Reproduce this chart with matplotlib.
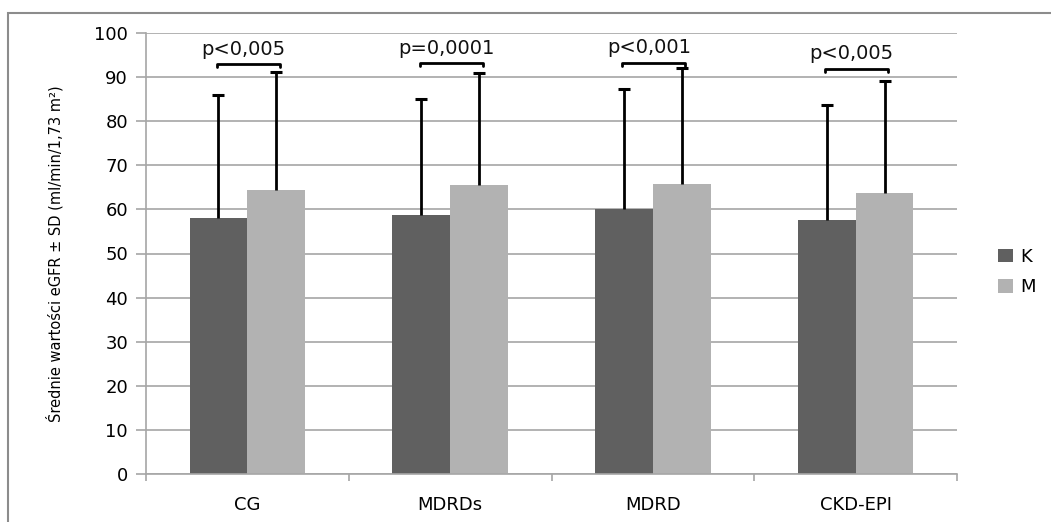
import numpy as np
import matplotlib.pyplot as plt
from matplotlib.patches import Rectangle

# data
categories = ["CG", "MDRDs", "MDRD", "CKD-EPI"]
k_mean = [58.1, 58.7, 60.0, 57.6]
k_sd = [27.8, 26.3, 27.3, 26.1]
m_mean = [64.4, 65.5, 65.8, 63.8]
m_sd = [26.8, 25.4, 26.2, 25.3]
p_labels = ["p<0,005", "p=0,0001", "p<0,001", "p<0,005"]
bracket_y = [92.9, 93.1, 93.2, 91.8]

col_k = "#606060"
col_m = "#b2b2b2"
grid_col = "#a6a6a6"

fig = plt.figure(figsize=(10.51, 5.22), dpi=100)
ax = fig.add_axes([146 / 1051, 1 - 474 / 522, (957 - 146) / 1051, (474 - 33) / 522])

# outer chart frame (cut off at right and bottom like the source)
fig.patches.append(Rectangle((8 / 1051, -0.1), 1.2, 1 - 13 / 522 + 0.1,
                             transform=fig.transFigure, fill=False,
                             edgecolor="#8c8c8c", lw=1.5))

x = np.arange(len(categories))
w = 0.285
ax.bar(x - w / 2, k_mean, w, color=col_k, label="K", zorder=2)
ax.bar(x + w / 2, m_mean, w, color=col_m, label="M", zorder=2)

# upper-only error bars
for xs, mean, sd in [(x - w / 2, k_mean, k_sd), (x + w / 2, m_mean, m_sd)]:
    top = np.array(mean) + np.array(sd)
    ax.vlines(xs, mean, top, color="black", lw=2, zorder=3)
    ax.plot(xs, top, ls="none", marker="_", ms=8.5, mew=2.2, color="black", zorder=3)

# significance brackets
for i in range(len(categories)):
    x0, x1 = i - 0.15, i + 0.16
    y = bracket_y[i]
    ax.plot([x0, x0, x1, x1], [y - 0.6, y, y, y - 0.6], color="black",
            lw=2, zorder=3, solid_capstyle="round")
    ax.text(i - 0.02, y + 1.3, p_labels[i], ha="center", va="bottom",
            fontsize=14, color="#111111")

ax.set_xlim(-0.5, 3.5)
ax.set_ylim(0, 100)
ax.set_yticks(np.arange(0, 101, 10))
ax.set_xticks(x)
ax.set_xticklabels(categories)
ax.set_xticks(np.arange(-0.5, 3.6, 1), minor=True)
ax.tick_params(axis="x", which="major", length=0, pad=16, labelsize=13)
ax.tick_params(axis="x", which="minor", length=5, color=grid_col, width=1.2)
ax.tick_params(axis="y", length=7, color=grid_col, width=1.2, labelsize=13, pad=6)
ax.yaxis.grid(True, color=grid_col, lw=1.2, zorder=0)
ax.set_axisbelow(True)
for s in ["top", "right"]:
    ax.spines[s].set_visible(False)
for s in ["left", "bottom"]:
    ax.spines[s].set_color(grid_col)
    ax.spines[s].set_linewidth(1.2)

ax.set_ylabel("Średnie wartości eGFR ± SD (ml/min/1,73 m²)", fontsize=10.5,
              labelpad=22)

ax.legend(loc="center left", bbox_to_anchor=(982 / 1051, 1 - 272 / 522),
          bbox_transform=fig.transFigure, frameon=False, fontsize=13,
          handlelength=0.8, handleheight=0.8, handletextpad=0.4,
          labelspacing=0.7)

fig.savefig("out.png", dpi=100)
